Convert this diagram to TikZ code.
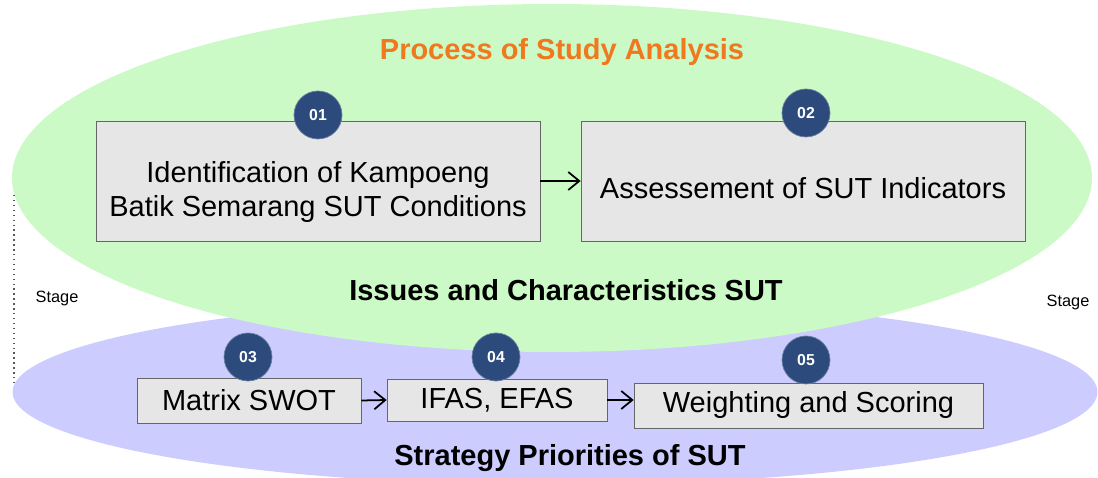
\documentclass[tikz,border=0pt]{standalone}
\usepackage{fontspec}
\setmainfont{Liberation Sans}
\usepackage{tikz}
\usetikzlibrary{arrows.meta}

\definecolor{stagegreen}{RGB}{204,250,198}
\definecolor{stageblue}{RGB}{204,204,255}
\definecolor{boxgray}{RGB}{230,230,230}
\definecolor{numblue}{RGB}{44,74,124}
\definecolor{titleorange}{RGB}{240,120,30}

\begin{document}
\begin{tikzpicture}[
  box/.style={draw=gray!80!black,fill=boxgray,inner sep=0pt,align=center,font=\fontsize{16.5}{19}\selectfont},
  boxtext/.style={inner sep=0pt,align=center,font=\fontsize{16.5}{19}\selectfont},
  num/.style={circle,fill=numblue,draw=numblue!70!white,minimum size=0.96cm,inner sep=0pt,text=white,font=\fontsize{9}{10}\selectfont\bfseries},
  arr/.style={-{Straight Barb[length=2.2mm,width=3.6mm]},line width=1pt},
  head/.style={font=\fontsize{16.5}{19}\selectfont\bfseries}
]
\useasboundingbox (0,0) rectangle (21.96,9.56);

% Stage areas
\fill[stageblue] (11.10,1.72) ellipse (10.85 and 1.86);
\fill[stagegreen] (11.04,6.00) ellipse (10.80 and 3.48);
\draw[dotted,line width=0.8pt,gray!70!black] (0.28,5.66) -- (0.28,1.90);

% Labels
\node[head,text=titleorange] (title) at (11.24,8.52) {Process of Study Analysis};
\node[head] (issues) at (11.32,3.76) {Issues and Characteristics SUT};
\node[head] (strategy) at (11.40,0.40) {Strategy Priorities of SUT};
\node[font=\fontsize{9.3}{11}\selectfont] (stageL) at (1.14,3.60) {Stage};
\node[font=\fontsize{9.3}{11}\selectfont] (stageR) at (21.36,3.52) {Stage};

% Steps
\node[box,minimum width=8.88cm,minimum height=2.40cm] (ident) at (6.36,5.94) {};
\node[boxtext] (identtext) at ([yshift=-0.22cm]ident.center)
  {Identification of Kampoeng\\Batik Semarang SUT Conditions};
\node[box,minimum width=8.88cm,minimum height=2.40cm] (assess) at (16.06,5.94) {};
\node[boxtext] (assesstext) at ([yshift=-0.14cm]assess.center)
  {Assessement of SUT Indicators};
\node[box,minimum width=4.48cm,minimum height=0.90cm] (swot) at (4.98,1.55) {Matrix SWOT};
\node[box,minimum width=4.40cm,minimum height=0.84cm] (ifas) at (9.94,1.56) {IFAS, EFAS};
\node[box,minimum width=6.98cm,minimum height=0.90cm] (weight) at (16.17,1.45) {Weighting and Scoring};

% Step numbers
\node[num] (n1) at (6.36,7.26) {01};
\node[num] (n2) at (16.12,7.30) {02};
\node[num] (n3) at (4.96,2.42) {03};
\node[num] (n4) at (9.92,2.42) {04};
\node[num] (n5) at (16.12,2.36) {05};

% Flow
\draw[arr] (ident.east) -- (assess.west);
\draw[arr] (swot.east) -- (ifas.west);
\draw[arr] (ifas.east) -- (weight.west|-ifas.east);

\end{tikzpicture}
\end{document}
